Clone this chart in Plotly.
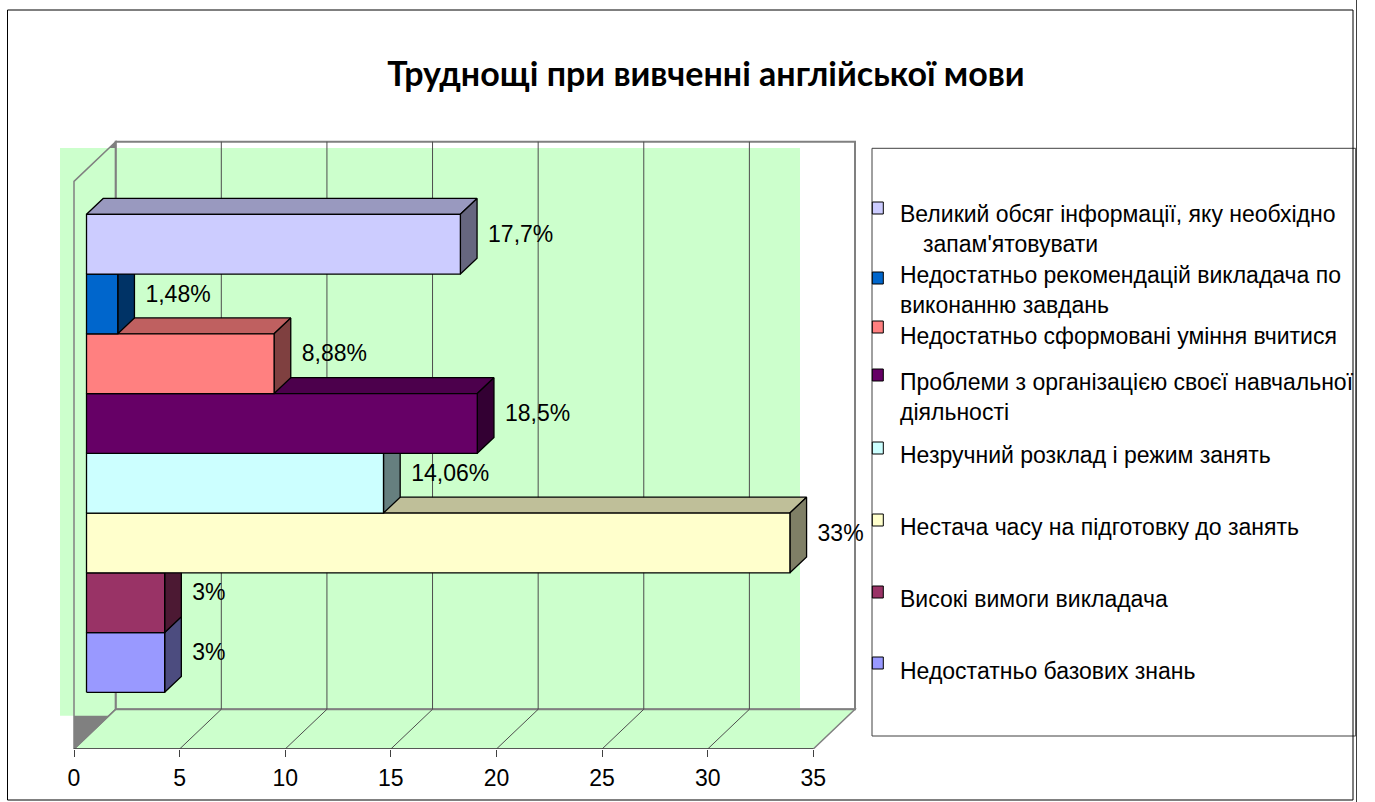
import textwrap
import plotly.graph_objects as go

# ---------------- data ----------------
categories = [
    "Недостатньо базових знань",
    "Високі вимоги викладача",
    "Нестача часу на підготовку до занять",
    "Незручний розклад і режим занять",
    "Проблеми з організацією своєї навчальної діяльності",
    "Недостатньо сформовані уміння вчитися",
    "Недостатньо рекомендацій викладача по виконанню завдань",
    "Великий обсяг інформації, яку необхідно запам'ятовувати",
]
values = [3.7, 3.7, 33.3, 14.06, 18.5, 8.88, 1.48, 17.7]
value_labels = ["3%", "3%", "33%", "14,06%", "18,5%", "8,88%", "1,48%", "17,7%"]
colors = ["#9999FF", "#993366", "#FFFFCC", "#CCFFFF", "#660066", "#FF8080", "#0066CC", "#CCCCFF"]
x_ticks = [0, 5, 10, 15, 20, 25, 30, 35]
x_max = 35
title_text = "Труднощі при вивченні англійської мови"

# ---------------- geometry of the pseudo-3D frame (pixels) ----------------
W, H = 1375, 802
AX0_PX = 74.0                       # front-plane position of value 0
PX_PER_UNIT = (813.3 - 74.0) / 35   # pixels per value unit
FLOOR_PX = 749.0                    # front floor line
WALL_H_PX = 567.6                   # wall height
DEPTH_DX_PX, DEPTH_DY_PX = 41.7, 39.7
BAR_D0, BAR_D1 = 0.3, 0.7           # bar depth span
GAP = 1.5                           # gap width (150 %)

x_lo = -AX0_PX / PX_PER_UNIT
x_hi = (W - AX0_PX) / PX_PER_UNIT
y_hi = FLOOR_PX / WALL_H_PX
DDX = DEPTH_DX_PX / PX_PER_UNIT
DDY = DEPTH_DY_PX / WALL_H_PX

FONT = "Liberation Sans, Arial, sans-serif"
GRID = "#4d4d4d"
EDGE = "#808080"


def P(v, h, d):
    return v + d * DDX, h + d * DDY


def px2data(px, py):
    return (px - AX0_PX) / PX_PER_UNIT, (FLOOR_PX - py) / WALL_H_PX


def path(points):
    return "M " + " L ".join(f"{x},{y}" for x, y in points) + " Z"


def ppath(points_px):
    pts = [(px / W, (FLOOR_PX - py) / FLOOR_PX) for px, py in points_px]
    return path(pts)


def dpath(points_px):
    return path([px2data(px, py) for px, py in points_px])


def shade(hexcol, f):
    r, g, b = (int(hexcol[i:i + 2], 16) for i in (1, 3, 5))
    return "#{:02X}{:02X}{:02X}".format(int(r * f), int(g * f), int(b * f))


shapes = []
# left wall (grey), mostly covered by the green plot-area fill
shapes.append(dict(type="path", xref="x", yref="y", layer="below",
                   path=path([P(0, 0, 0), P(0, 1, 0), P(0, 1, 1), P(0, 0, 1)]),
                   fillcolor="#808080", line=dict(width=0)))
# plot area fill
shapes.append(dict(type="path", xref="x", yref="y", layer="below",
                   path=dpath([(60, 148), (800, 148), (800, 715.7), (60, 715.7)]),
                   fillcolor="#CCFFCC", line=dict(width=0)))
# floor
shapes.append(dict(type="path", xref="x", yref="y", layer="below",
                   path=path([P(0, 0, 0), P(x_max, 0, 0), P(x_max, 0, 1), P(0, 0, 1)]),
                   fillcolor="#CCFFCC", line=dict(color=EDGE, width=1.5)))
# back wall outline
shapes.append(dict(type="path", xref="x", yref="y", layer="below",
                   path=path([P(0, 0, 1), P(0, 1, 1), P(x_max, 1, 1), P(x_max, 0, 1)]),
                   fillcolor="rgba(0,0,0,0)", line=dict(color=EDGE, width=2)))
# left wall outline
shapes.append(dict(type="path", xref="x", yref="y", layer="below",
                   path=path([P(0, 0, 0), P(0, 1, 0), P(0, 1, 1), P(0, 0, 1)]),
                   fillcolor="rgba(0,0,0,0)", line=dict(color=EDGE, width=1.5)))
# grid lines on back wall and floor
for t in x_ticks[1:-1]:
    (xa, ya), (xb, yb) = P(t, 0, 1), P(t, 1, 1)
    shapes.append(dict(type="line", xref="x", yref="y", layer="below",
                       x0=xa, y0=ya, x1=xb, y1=yb, line=dict(color=GRID, width=1)))
    (xa, ya), (xb, yb) = P(t, 0, 0), P(t, 0, 1)
    shapes.append(dict(type="line", xref="x", yref="y", layer="below",
                       x0=xa, y0=ya, x1=xb, y1=yb, line=dict(color=GRID, width=1)))
# value axis line
shapes.append(dict(type="line", xref="x", yref="y", layer="below",
                   x0=0, y0=0, x1=x_max, y1=0, line=dict(color="#404040", width=1.5)))
# outer chart border
shapes.append(dict(type="path", xref="paper", yref="paper",
                   path=ppath([(7.5, 10), (1353, 10), (1353, 800), (7.5, 800)]),
                   fillcolor="rgba(0,0,0,0)", line=dict(color="#000000", width=1)))
shapes.append(dict(type="line", xref="paper", yref="paper",
                   x0=1356.5 / W, x1=1356.5 / W, y0=(FLOOR_PX - 0) / FLOOR_PX,
                   y1=(FLOOR_PX - 802) / FLOOR_PX, line=dict(color="#404040", width=1)))

fig = go.Figure()

# ---------------- bars (front, top and side faces) ----------------
n = len(values)
bw = 1.0 / (n + GAP)
for i, (v, c) in enumerate(zip(values, colors)):
    h0 = bw * GAP / 2 + i * bw
    h1 = h0 + bw
    faces = [
        ([P(0, h1, BAR_D0), P(v, h1, BAR_D0), P(v, h1, BAR_D1), P(0, h1, BAR_D1)], shade(c, 0.75)),
        ([P(v, h0, BAR_D0), P(v, h1, BAR_D0), P(v, h1, BAR_D1), P(v, h0, BAR_D1)], shade(c, 0.5)),
        ([P(0, h0, BAR_D0), P(v, h0, BAR_D0), P(v, h1, BAR_D0), P(0, h1, BAR_D0)], c),
    ]
    for pts, fc in faces:
        xs = [p[0] for p in pts] + [pts[0][0]]
        ys = [p[1] for p in pts] + [pts[0][1]]
        fig.add_trace(go.Scatter(x=xs, y=ys, mode="lines", fill="toself", fillcolor=fc,
                                 line=dict(color="#000000", width=1.3),
                                 name=categories[i], showlegend=False,
                                 hoverinfo="skip"))

# ---------------- data labels ----------------
lab_x, lab_y = [], []
for i, v in enumerate(values):
    hc = bw * GAP / 2 + (i + 0.5) * bw
    x_end, _ = P(v, hc, BAR_D1)
    _, y_mid = P(v, hc, 0.5)
    lab_x.append(x_end + 11 / PX_PER_UNIT)
    lab_y.append(y_mid)
fig.add_trace(go.Scatter(x=lab_x, y=lab_y, mode="text", text=value_labels,
                         textposition="middle right", cliponaxis=False,
                         textfont=dict(family=FONT, size=23, color="#000000"),
                         showlegend=False, hoverinfo="skip"))

# ---------------- legend (box, swatches, text) ----------------
LEG_FONT = 23
LEG_LINE = LEG_FONT * 1.3
legend_marker_py = [208, 278, 327, 375, 448, 520, 592, 663]
legend_first_line_py = [214, 275, 336, 382, 455, 527, 599, 671]
shapes.append(dict(type="path", xref="paper", yref="paper",
                   path=ppath([(872, 148.3), (1355.7, 148.3), (1355.7, 736), (872, 736)]),
                   fillcolor="#FFFFFF", line=dict(color="#404040", width=1), layer="below"))
annotations = []
for k, i in enumerate(reversed(range(n))):
    my = legend_marker_py[k]
    shapes.append(dict(type="path", xref="paper", yref="paper",
                       path=ppath([(872.3, my - 6), (883.3, my - 6), (883.3, my + 6), (872.3, my + 6)]),
                       fillcolor=colors[i], line=dict(color="#000000", width=1)))
    lines = textwrap.wrap(categories[i], width=40)
    if k == 0 and len(lines) > 1:
        lines[1] = "\u2003" + lines[1]
    top_py = legend_first_line_py[k] - LEG_LINE / 2
    annotations.append(dict(xref="paper", yref="paper", x=897.7 / W,
                            y=(FLOOR_PX - top_py) / FLOOR_PX, text="<br>".join(lines),
                            showarrow=False, xanchor="left", yanchor="top", align="left",
                            font=dict(family=FONT, size=LEG_FONT, color="#000000")))

fig.update_layout(
    width=W, height=H,
    margin=dict(l=0, r=0, t=0, b=H - FLOOR_PX, pad=0),
    paper_bgcolor="#FFFFFF", plot_bgcolor="rgba(0,0,0,0)",
    title=dict(text=f"<b>{title_text}</b>", x=706 / W, y=1 - 74 / H,
               xanchor="center", yanchor="middle", xref="container", yref="container",
               font=dict(family="Lato, Carlito, Open Sans, sans-serif", size=34, color="#000000")),
    xaxis=dict(range=[x_lo, x_hi], domain=[0, 1], tickvals=x_ticks,
               ticktext=[str(t) for t in x_ticks], ticks="outside", ticklen=7,
               tickcolor="#404040", tickwidth=1, showgrid=False, zeroline=False,
               showline=False, tickfont=dict(family=FONT, size=23, color="#000000"),
               ticklabelstandoff=1, fixedrange=True),
    yaxis=dict(range=[0, y_hi], domain=[0, 1], visible=False, fixedrange=True),
    shapes=shapes,
    annotations=annotations,
    showlegend=False,
)

fig.write_html(
    "out.html",
    config={"displayModeBar": False},
    post_script="document.body.style.margin='0px';document.body.style.padding='0px';"
                "document.body.style.overflow='hidden';",
)
